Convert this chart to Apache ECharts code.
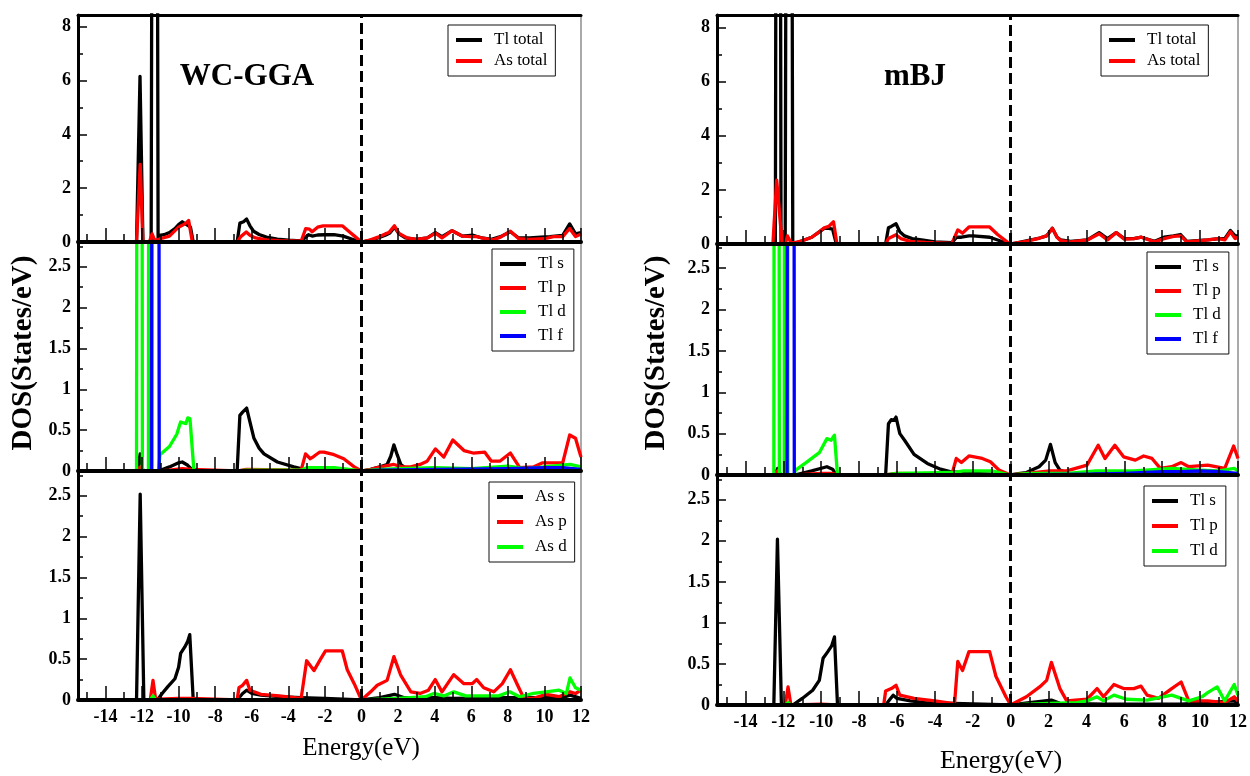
<!DOCTYPE html>
<html>
<head>
<meta charset="utf-8">
<script src="https://cdn.jsdelivr.net/npm/echarts@6/dist/echarts.min.js"></script>
<style>
  html, body { margin: 0; padding: 0; background: #fff; }
  #chart { width: 1250px; height: 776px; }
</style>
</head>
<body>
<div id="chart"></div>
<script>
// Density of states of TlAs, [energy (eV), DOS (states/eV)] per curve.

// ---- WC-GGA: total DOS ----
const ggaTlTotal = [[-15.5,0],[-12.3,0],[-12.11,6.15],[-11.95,0],[-11.5,0],[-11.31,60],[-11.12,0],[-11.05,0.25],[-10.8,0.27],[-10.5,0.35],[-10.2,0.5],[-10.0,0.65],[-9.8,0.75],[-9.65,0.68],[-9.5,0.62],[-9.35,0.55],[-9.2,0],[-6.8,0],[-6.65,0.7],[-6.45,0.75],[-6.28,0.85],[-6.1,0.6],[-5.9,0.4],[-5.6,0.28],[-5.2,0.18],[-4.6,0.11],[-4.0,0.07],[-3.3,0.04],[-3.1,0.15],[-2.9,0.27],[-2.7,0.22],[-2.4,0.26],[-2.0,0.27],[-1.5,0.27],[-1.0,0.22],[-0.5,0.1],[0,0],[0.4,0.05],[0.9,0.15],[1.3,0.25],[1.55,0.33],[1.8,0.55],[2.05,0.3],[2.4,0.15],[3.0,0.1],[3.6,0.15],[4.04,0.35],[4.4,0.2],[4.95,0.42],[5.5,0.22],[6.1,0.25],[6.6,0.15],[7.1,0.1],[7.6,0.2],[8.14,0.38],[8.6,0.15],[9.2,0.15],[9.8,0.18],[10.3,0.2],[11.0,0.25],[11.38,0.67],[11.7,0.3],[12,0.35]];
const ggaAsTotal = [[-15.5,0],[-12.3,0],[-12.1,2.88],[-11.95,0],[-11.6,0],[-11.45,0.3],[-11.3,0.05],[-11.0,0.12],[-10.5,0.22],[-10.0,0.55],[-9.8,0.62],[-9.6,0.7],[-9.45,0.8],[-9.25,0],[-6.8,0],[-6.6,0.2],[-6.3,0.37],[-6.1,0.25],[-5.8,0.15],[-5.2,0.08],[-4.5,0.05],[-3.3,0.03],[-3.05,0.5],[-2.85,0.48],[-2.7,0.38],[-2.4,0.55],[-2.1,0.6],[-1.05,0.6],[-0.7,0.4],[-0.35,0.2],[0,0],[0.5,0.08],[0.9,0.18],[1.3,0.3],[1.5,0.35],[1.8,0.6],[2.05,0.32],[2.5,0.15],[3.0,0.1],[3.6,0.15],[4.04,0.33],[4.4,0.15],[4.95,0.42],[5.5,0.22],[6.0,0.2],[6.3,0.2],[6.7,0.13],[7.2,0.08],[7.6,0.18],[8.14,0.4],[8.6,0.12],[9.2,0.1],[10.0,0.12],[10.5,0.2],[11.0,0.2],[11.38,0.5],[11.7,0.2],[12,0.3]];

// ---- WC-GGA: Tl partial DOS ----
const ggaTlS = [[-15.5,0],[-12.25,0],[-12.1,0.21],[-11.95,0],[-11.1,0],[-10.5,0.05],[-10.0,0.1],[-9.8,0.11],[-9.5,0.07],[-9.2,0],[-6.8,0],[-6.65,0.68],[-6.5,0.72],[-6.4,0.7],[-6.28,0.77],[-6.1,0.6],[-5.88,0.4],[-5.6,0.28],[-5.33,0.21],[-4.6,0.11],[-3.7,0.05],[-3.15,0.02],[-1.0,0.01],[0,0],[0.5,0.02],[1.0,0.05],[1.4,0.08],[1.6,0.18],[1.77,0.32],[1.95,0.2],[2.15,0.08],[2.5,0.02],[6,0.01],[11.4,0.03],[12,0.01]];
const ggaTlP = [[-15.5,0],[-12.3,0],[-12.1,0.05],[-11.9,0],[-11.1,0],[-10.5,0.01],[-9.8,0.03],[-9.3,0.02],[-9.2,0],[-6.8,0],[-6.3,0.02],[-3.3,0.01],[-3.06,0.21],[-2.8,0.15],[-2.6,0.18],[-2.3,0.23],[-2.06,0.23],[-1.5,0.2],[-0.97,0.15],[-0.4,0.05],[0,0],[0.5,0.02],[1.04,0.05],[1.77,0.08],[2.2,0.05],[2.7,0.05],[3.2,0.08],[3.59,0.12],[4.04,0.27],[4.5,0.17],[4.99,0.38],[5.6,0.25],[6.1,0.22],[6.74,0.23],[7.1,0.12],[7.56,0.12],[8.14,0.22],[8.65,0.04],[9.4,0.05],[9.9,0.1],[11.0,0.1],[11.38,0.44],[11.7,0.4],[12,0.17]];
const ggaTlD = [[-15.5,0],[-12.3,0],[-12.14,40],[-11.98,0],[-11.65,0],[-11.55,40],[-11.45,0],[-11.1,0],[-11.02,0.2],[-10.5,0.3],[-10.1,0.45],[-9.89,0.6],[-9.6,0.58],[-9.5,0.65],[-9.38,0.64],[-9.16,0],[-6.8,0],[-6.3,0.01],[-3.3,0.01],[-3.0,0.04],[-1.5,0.04],[0,0],[1,0.02],[2,0.03],[4,0.04],[6,0.03],[8,0.06],[9,0.03],[10,0.05],[11.4,0.08],[12,0.05]];
const ggaTlF = [[-15.5,0],[-11.48,0],[-11.27,60],[-11.06,0],[0,0],[1,0.01],[4,0.02],[8,0.03],[10,0.04],[11,0.04],[12,0.02]];

// ---- WC-GGA: As partial DOS ----
const ggaAsS = [[-15.5,0],[-12.3,0],[-12.1,2.52],[-11.9,0],[-11.16,0],[-10.9,0.08],[-10.6,0.16],[-10.2,0.26],[-10.0,0.4],[-9.89,0.57],[-9.66,0.65],[-9.5,0.72],[-9.39,0.8],[-9.2,0],[-6.8,0],[-6.5,0.08],[-6.28,0.12],[-6.0,0.08],[-5.5,0.06],[-4.5,0.04],[-3.3,0.03],[-2,0.02],[0,0],[1,0.03],[1.8,0.07],[2.3,0.03],[4,0.03],[5,0.02],[8,0.03],[11,0.03],[11.4,0.06],[12,0.02]];
const ggaAsP = [[-15.5,0],[-11.55,0],[-11.4,0.24],[-11.25,0],[-11.1,0.01],[-10,0.02],[-9.3,0.02],[-9.2,0],[-6.8,0],[-6.7,0.15],[-6.5,0.18],[-6.28,0.24],[-6.1,0.12],[-5.5,0.07],[-4.5,0.05],[-3.3,0.02],[-3.0,0.48],[-2.6,0.36],[-2.24,0.5],[-1.97,0.6],[-1.05,0.6],[-0.78,0.37],[-0.4,0.2],[0,0],[0.5,0.1],[0.86,0.18],[1.4,0.24],[1.77,0.53],[2.15,0.3],[2.7,0.1],[3.2,0.08],[3.66,0.12],[4.03,0.25],[4.4,0.1],[5.04,0.31],[5.6,0.2],[6.05,0.2],[6.3,0.25],[6.68,0.15],[7.23,0.1],[7.7,0.2],[8.14,0.37],[8.6,0.15],[8.88,0.02],[9.4,0.02],[10.1,0.07],[10.8,0.04],[11.4,0.1],[11.7,0.08],[12,0.12]];
const ggaAsD = [[-15.5,0],[-11.55,0],[-11.4,0.05],[-11.25,0],[0,0],[2,0.02],[3.5,0.04],[3.95,0.08],[4.5,0.05],[5.04,0.1],[5.7,0.05],[6.5,0.05],[7.5,0.05],[8.1,0.1],[8.65,0.04],[9.4,0.08],[10.1,0.1],[10.8,0.12],[11.2,0.08],[11.4,0.27],[11.7,0.15],[12,0.12]];

// ---- mBJ: total DOS ----
const mbjTlTotal = [[-15.5,0],[-12.42,0],[-12.27,60],[-12.12,0],[-11.9,0],[-11.7,60],[-11.5,0],[-11.45,0.05],[-11.0,0.12],[-10.5,0.25],[-10.1,0.45],[-9.84,0.58],[-9.6,0.58],[-9.4,0.55],[-9.2,0],[-6.6,0],[-6.45,0.6],[-6.3,0.65],[-6.05,0.75],[-5.85,0.45],[-5.6,0.3],[-5.2,0.2],[-4.7,0.15],[-4.0,0.08],[-3.1,0.05],[-2.85,0.25],[-2.6,0.25],[-2.2,0.3],[-1.98,0.3],[-1.1,0.25],[-0.5,0.1],[0,0],[0.4,0.05],[0.83,0.12],[1.53,0.22],[1.9,0.3],[2.2,0.58],[2.45,0.25],[2.64,0.15],[3.17,0.1],[4.05,0.15],[4.67,0.42],[5.11,0.2],[5.57,0.42],[6.0,0.2],[6.5,0.2],[6.9,0.25],[7.6,0.1],[8.1,0.25],[8.6,0.3],[8.97,0.35],[9.3,0.1],[10.4,0.15],[11.0,0.2],[11.3,0.2],[11.6,0.5],[11.85,0.3],[12,0.3]];
const mbjAsTotal = [[-15.5,0],[-12.55,0],[-12.35,2.36],[-12.06,0],[-11.9,0],[-11.78,0.3],[-11.6,0.05],[-11.4,0.05],[-11.0,0.12],[-10.5,0.25],[-10.1,0.45],[-9.84,0.6],[-9.6,0.65],[-9.35,0.82],[-9.17,0],[-6.6,0],[-6.45,0.2],[-6.05,0.34],[-5.8,0.2],[-5.3,0.1],[-4.5,0.06],[-3.1,0.02],[-2.79,0.52],[-2.54,0.4],[-2.2,0.63],[-1.11,0.63],[-0.69,0.35],[-0.14,0.05],[0,0],[0.83,0.1],[1.53,0.22],[1.9,0.3],[2.2,0.58],[2.45,0.25],[2.64,0.12],[3.17,0.08],[4.05,0.15],[4.67,0.38],[5.11,0.15],[5.57,0.42],[6.0,0.18],[6.5,0.2],[6.9,0.25],[7.6,0.08],[8.1,0.2],[8.6,0.28],[8.97,0.3],[9.3,0.08],[10.4,0.15],[11.0,0.2],[11.3,0.15],[11.6,0.45],[11.85,0.2],[12,0.25]];

// ---- mBJ: Tl partial DOS ----
const mbjTlS = [[-15.5,0],[-12.45,0],[-12.3,0.08],[-12.15,0],[-11.4,0],[-10.5,0.05],[-9.7,0.1],[-9.4,0.07],[-9.2,0],[-6.6,0],[-6.45,0.62],[-6.3,0.67],[-6.15,0.66],[-6.05,0.7],[-5.85,0.5],[-5.6,0.42],[-5.1,0.25],[-4.4,0.14],[-3.7,0.07],[-3.2,0.04],[-2,0.02],[0,0],[0.5,0.02],[0.83,0.03],[1.5,0.1],[1.85,0.18],[2.1,0.37],[2.35,0.15],[2.6,0.06],[3,0.02],[12,0.01]];
const mbjTlP = [[-15.5,0],[-12.5,0],[-12.3,0.05],[-12.1,0],[-11.4,0],[-10,0.02],[-9.4,0.02],[-9.2,0],[-6.6,0],[-6.05,0.02],[-3.1,0.01],[-2.87,0.2],[-2.6,0.15],[-2.2,0.23],[-1.5,0.2],[-1.07,0.16],[-0.62,0.06],[0,0],[0.83,0.02],[2.07,0.05],[2.96,0.05],[4.03,0.12],[4.62,0.36],[4.98,0.2],[5.5,0.36],[5.96,0.22],[6.58,0.18],[7.02,0.23],[7.46,0.2],[7.9,0.08],[8.5,0.1],[9.0,0.15],[9.4,0.1],[10.4,0.12],[11.3,0.08],[11.77,0.35],[12,0.2]];
const mbjTlD = [[-15.5,0],[-12.5,0],[-12.35,40],[-12.21,0],[-11.95,0],[-11.85,40],[-11.76,0],[-11.45,0],[-11.35,0.06],[-10.8,0.15],[-10.1,0.27],[-9.7,0.44],[-9.48,0.42],[-9.3,0.48],[-9.14,0],[-6.6,0],[-6.0,0.02],[-3.0,0.03],[-2.5,0.05],[-1.0,0.05],[0,0],[1,0.02],[3,0.02],[4.5,0.05],[5.5,0.05],[6.5,0.05],[8.5,0.08],[10,0.06],[11,0.05],[11.8,0.08],[12,0.05]];
const mbjTlF = [[-15.5,0],[-11.8,0],[-11.6,60],[-11.42,0],[0,0],[4,0.01],[6,0.02],[8,0.04],[9,0.04],[10,0.05],[11,0.04],[12,0.02]];

// ---- mBJ: lower partial panel ----
const mbjLowS = [[-15.5,0],[-12.5,0],[-12.31,2.02],[-12.1,0],[-11.5,0],[-11.0,0.08],[-10.45,0.18],[-10.1,0.3],[-9.9,0.57],[-9.65,0.65],[-9.45,0.72],[-9.3,0.83],[-9.14,0],[-6.6,0],[-6.4,0.06],[-6.2,0.12],[-6.0,0.08],[-5.3,0.05],[-4.5,0.03],[-3,0.02],[0,0],[1,0.03],[2.15,0.06],[2.6,0.02],[5,0.01],[9,0.01],[11.8,0.05],[12,0.02]];
const mbjLowP = [[-15.5,0],[-11.9,0],[-11.75,0.22],[-11.6,0],[-11.4,0],[-10,0.01],[-9.2,0],[-6.7,0],[-6.6,0.17],[-6.3,0.2],[-6.05,0.24],[-5.85,0.12],[-5.1,0.08],[-4.0,0.05],[-3.1,0.02],[-2.96,0.02],[-2.79,0.53],[-2.54,0.42],[-2.2,0.65],[-1.11,0.65],[-0.78,0.35],[-0.25,0.1],[0,0],[0.83,0.1],[1.53,0.22],[1.9,0.3],[2.15,0.52],[2.6,0.2],[2.96,0.05],[4.03,0.07],[4.56,0.2],[4.9,0.1],[5.45,0.25],[5.96,0.2],[6.5,0.2],[6.88,0.23],[7.2,0.12],[7.8,0.08],[8.5,0.2],[9.0,0.28],[9.4,0.05],[10.4,0.05],[11.3,0.03],[11.8,0.1],[12,0.05]];
const mbjLowD = [[-15.5,0],[-11.9,0],[-11.75,0.03],[-11.6,0],[0,0],[2,0.02],[3.5,0.03],[4.03,0.05],[4.56,0.1],[4.9,0.05],[5.45,0.12],[6.1,0.07],[7.2,0.06],[8.5,0.12],[9.0,0.08],[9.4,0.05],[10.1,0.1],[10.4,0.15],[10.9,0.22],[11.3,0.05],[11.8,0.25],[12,0.12]];

// ---- axis ticks ----
const energyLabels = [-14,-12,-10,-8,-6,-4,-2,0,2,4,6,8,10,12];
const energyMinor = [-15,-13,-11,-9,-7,-5,-3,-1,1,3,5,7,9,11];
const totalTicks = [0,2,4,6,8];
const totalMinor = [1,3,5,7];
const partialTicks = [0,0.5,1,1.5,2,2.5];
const partialMinor = [0.25,0.75,1.25,1.75,2.25,2.75];

const SERIF = '"Liberation Serif","Times New Roman",Times,serif';
const BLACK = '#000000', RED = '#ff0000', GREEN = '#00ff00', BLUE = '#0000ff';
const CURVE_WIDTH = 3.3;

const panels = [
  { grid: { left: 78, top: 15, width: 503, height: 227 }, ymax: 8.43, ticks: totalTicks, minor: totalMinor, frameTop: true, xLabels: false,
    curves: [['Tl total', ggaTlTotal, BLACK], ['As total', ggaAsTotal, RED]] },
  { grid: { left: 78, top: 243, width: 503, height: 228 }, ymax: 2.79, ticks: partialTicks, minor: partialMinor, xLabels: false,
    curves: [['Tl s', ggaTlS, BLACK], ['Tl p', ggaTlP, RED], ['Tl d', ggaTlD, GREEN], ['Tl f', ggaTlF, BLUE]] },
  { grid: { left: 78, top: 472, width: 503, height: 228 }, ymax: 2.79, ticks: partialTicks, minor: partialMinor, xLabels: true,
    curves: [['As s', ggaAsS, BLACK], ['As p', ggaAsP, RED], ['As d', ggaAsD, GREEN]] },
  { grid: { left: 717, top: 15, width: 521, height: 229 }, ymax: 8.46, ticks: totalTicks, minor: totalMinor, frameTop: true, xLabels: false,
    curves: [['Tl total', mbjTlTotal, BLACK], ['As total', mbjAsTotal, RED]] },
  { grid: { left: 717, top: 245, width: 521, height: 230 }, ymax: 2.78, ticks: partialTicks, minor: partialMinor, xLabels: false,
    curves: [['Tl s', mbjTlS, BLACK], ['Tl p', mbjTlP, RED], ['Tl d', mbjTlD, GREEN], ['Tl f', mbjTlF, BLUE]] },
  { grid: { left: 717, top: 476, width: 521, height: 229 }, ymax: 2.79, ticks: partialTicks, minor: partialMinor, xLabels: true,
    curves: [['Tl s', mbjLowS, BLACK], ['Tl p', mbjLowP, RED], ['Tl d', mbjLowD, GREEN]] }
];

const grids = [], xAxes = [], yAxes = [], series = [];

panels.forEach(function (p, gi) {
  grids.push(Object.assign({ show: true, borderColor: '#555', borderWidth: 1, backgroundColor: 'transparent', containLabel: false, outerBoundsMode: 'none' }, p.grid));

  const xMain = xAxes.length;
  xAxes.push({
    gridIndex: gi, type: 'value', min: -15.5, max: 12, position: 'bottom', z: 10,
    axisLine: { show: true, onZero: false, lineStyle: { color: BLACK, width: 4 } },
    axisTick: { show: true, inside: true, length: 14, customValues: energyLabels, lineStyle: { color: BLACK, width: 1.5 } },
    axisLabel: { show: p.xLabels, customValues: energyLabels, margin: 8, color: BLACK, fontFamily: SERIF, fontWeight: 'bold', fontSize: 18 },
    splitLine: { show: false }
  });
  xAxes.push({
    gridIndex: gi, type: 'value', min: -15.5, max: 12, position: 'bottom', z: 10,
    axisLine: { show: false, onZero: false },
    axisTick: { show: true, inside: true, length: 8, customValues: energyMinor, lineStyle: { color: BLACK, width: 1.5 } },
    axisLabel: { show: false }, splitLine: { show: false }
  });
  if (p.frameTop) {
    xAxes.push({
      gridIndex: gi, type: 'value', min: -15.5, max: 12, position: 'top', z: 10,
      axisLine: { show: true, onZero: false, lineStyle: { color: BLACK, width: 3 } },
      axisTick: { show: false }, axisLabel: { show: false }, splitLine: { show: false }
    });
  }

  const yMain = yAxes.length;
  yAxes.push({
    gridIndex: gi, type: 'value', min: 0, max: p.ymax, position: 'left', z: 10,
    axisLine: { show: true, onZero: false, lineStyle: { color: BLACK, width: 3 } },
    axisTick: { show: true, inside: true, length: 9, customValues: p.ticks, lineStyle: { color: BLACK, width: 1.5 } },
    axisLabel: { show: true, customValues: p.ticks, margin: 7, color: BLACK, fontFamily: SERIF, fontWeight: 'bold', fontSize: 18 },
    splitLine: { show: false }
  });
  yAxes.push({
    gridIndex: gi, type: 'value', min: 0, max: p.ymax, position: 'left', z: 10,
    axisLine: { show: false, onZero: false },
    axisTick: { show: true, inside: true, length: 5, customValues: p.minor, lineStyle: { color: BLACK, width: 1.5 } },
    axisLabel: { show: false }, splitLine: { show: false }
  });

  p.curves.forEach(function (c, ci) {
    const s = {
      type: 'line', name: c[0], data: c[1], xAxisIndex: xMain, yAxisIndex: yMain,
      symbol: 'none', showSymbol: false, smooth: false, clip: true, z: 2 + ci,
      color: c[2], lineStyle: { color: c[2], width: CURVE_WIDTH, join: 'round' }
    };
    if (ci === 0) {
      // Fermi level
      s.markLine = {
        silent: true, symbol: ['none', 'none'], label: { show: false },
        lineStyle: { color: BLACK, type: [11, 5], width: 3 },
        emphasis: { disabled: true },
        data: [{ xAxis: 0 }]
      };
    }
    series.push(s);
  });
});

function legendBox(names, left, top, gap) {
  return {
    data: names, left: left, top: top, orient: 'vertical', selectedMode: false,
    icon: 'rect', itemWidth: 26, itemHeight: 4, itemGap: gap,
    backgroundColor: '#fff', borderColor: '#111', borderWidth: 1, borderRadius: 0,
    padding: [6, 8, 6, 8], z: 20,
    textStyle: { fontFamily: SERIF, fontSize: 17, color: BLACK, lineHeight: 18, padding: [0, 0, 0, 7] }
  };
}

const legends = [
  legendBox(['Tl total', 'As total'], 448, 25, 3),
  legendBox(['Tl s', 'Tl p', 'Tl d', 'Tl f'], 492, 249, 6),
  legendBox(['As s', 'As p', 'As d'], 489, 482, 7),
  legendBox(['Tl total', 'As total'], 1101, 25, 3),
  legendBox(['Tl s', 'Tl p', 'Tl d', 'Tl f'], 1147, 252, 6),
  legendBox(['Tl s', 'Tl p', 'Tl d'], 1144, 486, 7)
];

function label(text, x, y, size, weight, rotate) {
  return {
    type: 'text', x: x, y: y, rotation: rotate ? Math.PI / 2 : 0, z: 30,
    style: { text: text, x: 0, y: 0, fill: BLACK, fontFamily: SERIF, fontSize: size, fontWeight: weight, align: 'center', verticalAlign: 'middle' }
  };
}

const chart = echarts.init(document.getElementById('chart'), null, { renderer: 'canvas' });
chart.setOption({
  animation: false,
  backgroundColor: '#fff',
  grid: grids,
  xAxis: xAxes,
  yAxis: yAxes,
  legend: legends,
  series: series,
  graphic: [
    label('WC-GGA', 247, 77, 31, 'bold'),
    label('mBJ', 915, 77, 31, 'bold'),
    label('Energy(eV)', 361, 748, 25, 'normal'),
    label('Energy(eV)', 1001, 761, 26, 'normal'),
    label('DOS(States/eV)', 24, 353, 29, 'bold', true),
    label('DOS(States/eV)', 657, 353, 29, 'bold', true)
  ]
});
</script>
</body>
</html>
